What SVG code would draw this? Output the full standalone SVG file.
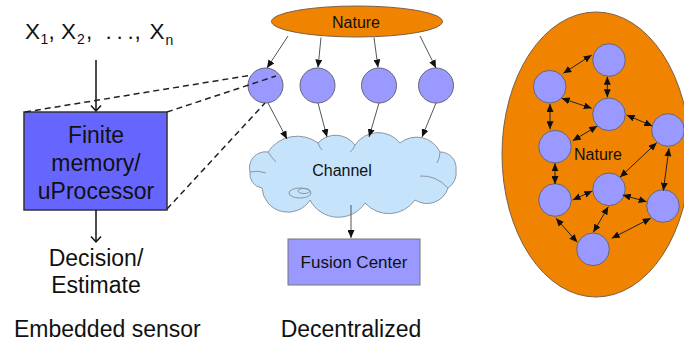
<svg xmlns="http://www.w3.org/2000/svg" width="684" height="345" viewBox="0 0 684 345">
  <style>
    text { font-family: "Liberation Sans", Arial, sans-serif; fill: #111; }
    .big { font-size: 23px; }
    .mid { font-size: 16px; }
    .c { text-anchor: middle; }
    .node { fill: #9999ff; stroke: #666677; stroke-width: 1; }
    .orange { fill: #f08300; stroke: #7a6048; stroke-width: 1; }
    .conn { stroke: #555; stroke-width: 1; fill: none; marker-end: url(#tri); }
    .pair { stroke: #222; stroke-width: 1; fill: none; marker-start: url(#tri); marker-end: url(#tri); }
    .flow { stroke: #111; stroke-width: 1.5; fill: none; marker-end: url(#vee); }
    .dash { stroke: #222; stroke-width: 1.5; stroke-dasharray: 6 4; fill: none; }
    .cloud { fill: #c5e3fb; stroke: #8a96a4; stroke-width: 1; }
  </style>
  <defs>
    <marker id="tri" markerUnits="userSpaceOnUse" markerWidth="8" markerHeight="7" refX="8" refY="3.5" orient="auto-start-reverse">
      <path d="M0,0 L8,3.5 L0,7 z" fill="#111"/>
    </marker>
    <marker id="vee" markerUnits="userSpaceOnUse" markerWidth="12" markerHeight="12" refX="6" refY="6" orient="auto">
      <path d="M0.5,1 L6,6 L0.5,11" fill="none" stroke="#111" stroke-width="1.5"/>
    </marker>
  </defs>

  <!-- Embedded sensor -->
  <g id="samples">
    <text style="font-size:22.5px" y="38.5">
      <tspan x="25">X</tspan><tspan x="40.5" y="44" style="font-size:14px">1</tspan><tspan x="48.5" y="38.5">,</tspan>
      <tspan x="61">X</tspan><tspan x="77" y="44" style="font-size:14px">2</tspan><tspan x="86" y="38.5">,</tspan>
      <tspan x="105.5">.</tspan><tspan x="116.5">.</tspan><tspan x="127.5">.</tspan><tspan x="134.5">,</tspan>
      <tspan x="149.5">X</tspan><tspan x="165.5" y="45" style="font-size:14px">n</tspan>
    </text>
  </g>
  <g id="processor">
    <rect x="24" y="112" width="143" height="98" fill="#6666ff" stroke="#333" stroke-width="1.5"/>
    <text class="big c" x="96" y="143">Finite</text>
    <text class="big c" x="96" y="171">memory/</text>
    <text class="big c" x="96" y="199">uProcessor</text>
  </g>
  <g id="decision">
    <text class="big c" x="96" y="266">Decision/</text>
    <text class="big c" x="96" y="293">Estimate</text>
  </g>
  <text class="big" x="14" y="337">Embedded sensor</text>

  <!-- Decentralized -->
  <g id="nature-top">
    <ellipse class="orange" cx="357" cy="21.5" rx="85.5" ry="15.5"/>
    <text class="mid c" x="356" y="28">Nature</text>
  </g>
  <g id="sensor1"><circle class="node" cx="265.5" cy="85.5" r="17.5"/></g>
  <g id="sensor2"><circle class="node" cx="317.5" cy="85.5" r="17.5"/></g>
  <g id="sensor3"><circle class="node" cx="379" cy="85.5" r="17.5"/></g>
  <g id="sensor4"><circle class="node" cx="436" cy="85.5" r="17.5"/></g>
  <g id="channel">
    <path class="cloud"
      d="M262,188 A14,14 0 0 1 250,172 A16,16 0 0 1 268,152 A35,35 0 0 1 318,143 A24,24 0 0 1 355,145 A28,28 0 0 1 400,143 A26,26 0 0 1 440,152 A16,16 0 0 1 456,170 A18,18 0 0 1 448,188 A22,22 0 0 1 415,200 A32,32 0 0 1 365,203 A32,32 0 0 1 310,200 A26,26 0 0 1 262,188 Z"/>
    <path fill="none" stroke="#8a96a4" stroke-width="1" d="M250,172 Q258,170 266,173 M268,152 Q272,158 276,162 M318,143 Q320,148 322,150 M355,145 Q354,149 350,152 M440,152 Q440,158 437,163 M420,176 Q436,175 448,188"/>
    <ellipse class="cloud" cx="300" cy="193" rx="11" ry="5"/>
    <ellipse cx="304" cy="191" rx="6" ry="2.5" fill="none" stroke="#8a96a4" stroke-width="1"/>
    <text class="mid c" x="342" y="176">Channel</text>
  </g>
  <g id="fusion">
    <rect x="288" y="239" width="132" height="46" fill="#9999ff" stroke="#777" stroke-width="1"/>
    <text class="c" style="font-size:17px" x="354" y="268">Fusion Center</text>
  </g>
  <text class="big c" x="351" y="337">Decentralized</text>

  <!-- Distributed -->
  <g id="nature-field">
    <ellipse class="orange" cx="596" cy="154.5" rx="94" ry="142.5"/>
    <text class="mid c" x="598" y="160">Nature</text>
  </g>
  <g id="nA"><circle class="node" cx="609" cy="60" r="16.3"/></g>
  <g id="nB"><circle class="node" cx="549.7" cy="86.7" r="16.3"/></g>
  <g id="nC"><circle class="node" cx="609" cy="114.3" r="16.3"/></g>
  <g id="nD"><circle class="node" cx="668" cy="130" r="16.3"/></g>
  <g id="nE"><circle class="node" cx="555" cy="146.7" r="16.3"/></g>
  <g id="nF"><circle class="node" cx="609" cy="189.3" r="16.3"/></g>
  <g id="nG"><circle class="node" cx="555" cy="200" r="16.3"/></g>
  <g id="nH"><circle class="node" cx="663" cy="206" r="16.3"/></g>
  <g id="nI"><circle class="node" cx="593" cy="249.3" r="16.3"/></g>

  <!-- Connectors -->
  <g id="connectors">
    <line class="flow" x1="96" y1="60" x2="96" y2="111"/>
    <line class="flow" x1="96" y1="210" x2="96" y2="242"/>
    <line class="dash" x1="25" y1="112" x2="249" y2="75.5"/>
    <line class="dash" x1="167" y1="112" x2="276" y2="76"/>
    <line class="dash" x1="167" y1="209" x2="265" y2="103"/>

    <line class="conn" x1="288" y1="36" x2="267" y2="68"/>
    <line class="conn" x1="321" y1="37.5" x2="318" y2="67.5"/>
    <line class="conn" x1="374" y1="37.5" x2="378" y2="67.5"/>
    <line class="conn" x1="420" y1="36" x2="436" y2="68"/>
    <line class="conn" x1="268" y1="103" x2="287" y2="139"/>
    <line class="conn" x1="318" y1="103" x2="327" y2="137"/>
    <line class="conn" x1="379" y1="103" x2="369" y2="137"/>
    <line class="conn" x1="436" y1="103" x2="422" y2="137"/>
    <line class="conn" x1="351" y1="205" x2="351" y2="238"/>

    <line class="pair" x1="563.3" y1="73.3" x2="591.7" y2="55"/>
    <line class="pair" x1="607.3" y1="76.7" x2="607.3" y2="97.3"/>
    <line class="pair" x1="561.7" y1="98.3" x2="591.7" y2="108.3"/>
    <line class="pair" x1="550" y1="104" x2="550" y2="129.3"/>
    <line class="pair" x1="572.7" y1="140.7" x2="597.3" y2="126"/>
    <line class="pair" x1="626.7" y1="115" x2="652.3" y2="126"/>
    <line class="pair" x1="620" y1="177.3" x2="656.7" y2="142.7"/>
    <line class="pair" x1="669" y1="148.3" x2="663.3" y2="190.7"/>
    <line class="pair" x1="555" y1="163.3" x2="555" y2="184"/>
    <line class="pair" x1="572.7" y1="200" x2="592.3" y2="191"/>
    <line class="pair" x1="622.7" y1="195" x2="646.7" y2="201.7"/>
    <line class="pair" x1="608.3" y1="206.7" x2="593.3" y2="232.3"/>
    <line class="pair" x1="556" y1="218.3" x2="577.3" y2="242.3"/>
    <line class="pair" x1="611.7" y1="238.3" x2="650.7" y2="218.3"/>
  </g>
</svg>
